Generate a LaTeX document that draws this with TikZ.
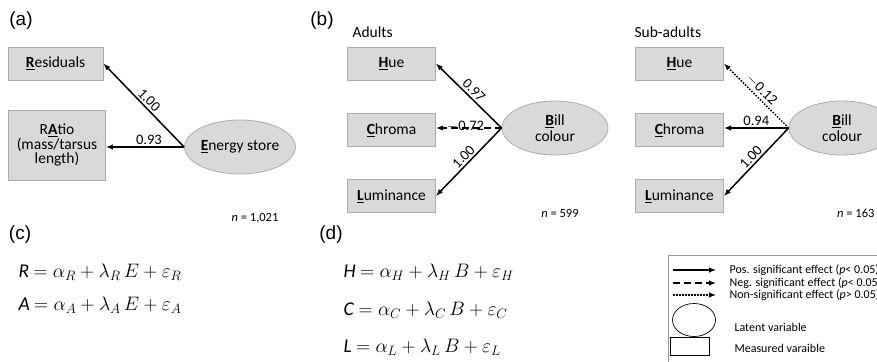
\RequirePackage{fix-cm}
\documentclass[tikz,border=0pt]{standalone}
\usepackage{fontspec}
\setmainfont{Carlito}
\newfontfamily\panelfont{Liberation Sans}
\usepackage{tikz}
\usetikzlibrary{arrows.meta,positioning,shapes.geometric}
\newcommand{\keyletter}[1]{\underline{\textbf{#1}}}
\newcommand{\fsz}[1]{\fontsize{#1}{#1}\selectfont}

\begin{document}
\begin{tikzpicture}[x=1pt,y=-1pt,>=Latex,font=\fsz{15.5},
  measured/.style={draw=gray!65,fill=gray!30,line width=0.8pt,minimum width=88,minimum height=33,inner sep=2pt},
  latent/.style={ellipse,draw=gray!65,fill=gray!30,line width=0.8pt,minimum width=106,minimum height=54,inner sep=0pt,align=center},
  effect/.style={-{Latex[length=7pt,width=5.5pt]},line width=1.5pt},
  negeffect/.style={effect,dash pattern=on 7pt off 4pt},
  nseffect/.style={effect,dash pattern=on 1.5pt off 1.5pt},
  coef/.style={font=\fsz{14.5},sloped,above,inner sep=2pt},
  panel/.style={font=\panelfont\fsz{19}},
  count/.style={font=\fsz{12.5}},
  eqn/.style={font=\fsz{19.5},anchor=west}]
  \useasboundingbox (0,0) rectangle (877,361);
  \clip (0,0) rectangle (877,361);

  % (a) energy store
  \node[panel] (pa) at (21,21) {(a)};
  \node[measured,minimum width=95] (res) at (55.5,63.5) {\keyletter{R}esiduals};
  \node[measured,minimum width=97,minimum height=70,align=center] (rat) at (57,145)
    {R\keyletter{A}tio\\[-1pt](mass/tarsus\\[-1pt]length)};
  \node[latent,minimum width=101] (ene) at (240,147) {\keyletter{E}nergy store};
  \draw[effect] (ene.west) -- node[coef] {1.00} (res.east);
  \draw[effect] (ene.west) -- node[coef,pos=0.45] {0.93} (rat.east |- ene.west);
  \node[count] (na) at (255,218) {\textit{n} = 1,021};

  % (b) bill colour, adults
  \node[panel] (pb) at (322,21) {(b)};
  \node[anchor=west] (adu) at (349,32) {Adults};
  \node[measured] (hue1) at (391.5,63.5) {\keyletter{H}ue};
  \node[measured] (chr1) at (391.5,130) {\keyletter{C}hroma};
  \node[measured] (lum1) at (391.5,196) {\keyletter{L}uminance};
  \node[latent] (bil1) at (555,128) {\keyletter{B}ill\\colour};
  \draw[effect] (bil1.west) -- node[coef] {0.97} (hue1.east);
  \draw[negeffect] (bil1.west) -- node[coef,above=-6pt,pos=0.55] {$-$0.72} (chr1.east |- bil1.west);
  \draw[effect] (bil1.west) -- node[coef] {1.00} (lum1.east);
  \node[count] (nb) at (560,213) {\textit{n} = 599};

  % (b) bill colour, sub-adults
  \node[anchor=west] (sub) at (631,32) {Sub-adults};
  \node[measured] (hue2) at (679.5,63.5) {\keyletter{H}ue};
  \node[measured] (chr2) at (679.5,130) {\keyletter{C}hroma};
  \node[measured] (lum2) at (679.5,196) {\keyletter{L}uminance};
  \node[latent] (bil2) at (842,128) {\keyletter{B}ill\\colour};
  \draw[nseffect] (bil2.west) -- node[coef] {$-$0.12} (hue2.east);
  \draw[effect] (bil2.west) -- node[coef] {0.94} (chr2.east |- bil2.west);
  \draw[effect] (bil2.west) -- node[coef] {1.00} (lum2.east);
  \node[count,anchor=east] (nc) at (878,213) {\textit{n} = 163};

  % (c) and (d) equations
  \node[panel] (pc) at (20,235) {(c)};
  \node[eqn] (eqr) at (15,272) {\textit{R} $=\alpha_R+\lambda_R\,E+\varepsilon_R$};
  \node[eqn] (eqa) at (15,305) {\textit{A} $=\alpha_A+\lambda_A\,E+\varepsilon_A$};
  \node[panel] (pd) at (331,235) {(d)};
  \node[eqn] (eqh) at (340,272) {\textit{H} $=\alpha_H+\lambda_H\,B+\varepsilon_H$};
  \node[eqn] (eqc) at (340,310) {\textit{C} $=\alpha_C+\lambda_C\,B+\varepsilon_C$};
  \node[eqn] (eql) at (340,347) {\textit{L} $=\alpha_L+\lambda_L\,B+\varepsilon_L$};

  % Legend
  \draw[gray!80,line width=0.8pt] (668,255) rectangle (900,380);
  \foreach \y/\sty/\txt in {270/effect/Pos. significant effect (\textit{p}< 0.05),
                            283/negeffect/Neg. significant effect (\textit{p}< 0.05,
                            295/nseffect/Non-significant effect (\textit{p}> 0.05)} {
    \coordinate (ls\y) at (673,\y);
    \coordinate (le\y) at (716,\y);
    \draw[\sty,line width=1.2pt] (ls\y) -- (le\y);
    \node[font=\fsz{12},anchor=west] at (726,\y) {\txt};
  }
  \node[ellipse,draw,line width=0.7pt,minimum width=43,minimum height=33,inner sep=0pt] (lgl) at (694,320) {};
  \node[font=\fsz{12},anchor=west] (lglt) at (731,327) {Latent variable};
  \node[draw,line width=0.7pt,minimum width=39,minimum height=18,inner sep=0pt] (lgm) at (690,346) {};
  \node[font=\fsz{12},anchor=west] (lgmt) at (731,348) {Measured varaible};
\end{tikzpicture}
\end{document}
